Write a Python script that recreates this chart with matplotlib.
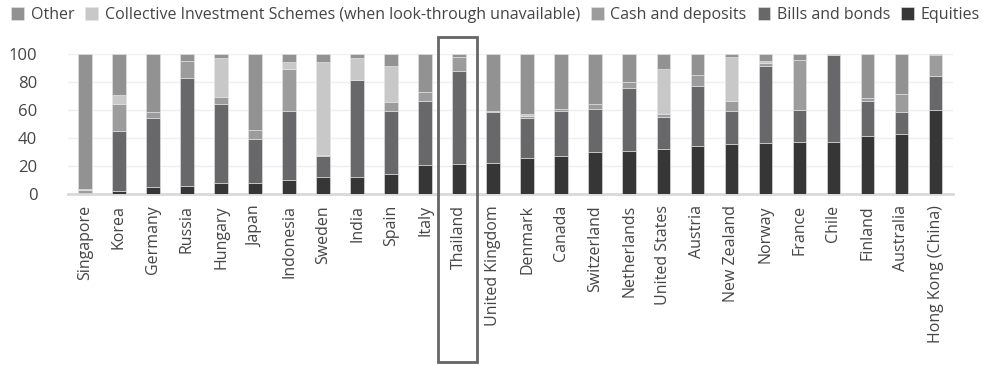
import numpy as np
import matplotlib.pyplot as plt
from matplotlib.patches import Rectangle

plt.rcParams['font.family'] = ['Open Sans', 'DejaVu Sans']

countries = ['Singapore', 'Korea', 'Germany', 'Russia', 'Hungary', 'Japan', 'Indonesia',
             'Sweden', 'India', 'Spain', 'Italy', 'Thailand', 'United Kingdom', 'Denmark',
             'Canada', 'Switzerland', 'Netherlands', 'United States', 'Austria',
             'New Zealand', 'Norway', 'France', 'Chile', 'Finland', 'Australia',
             'Hong Kong (China)']

equities = [0, 2, 5, 6, 7.5, 8, 10, 12, 12.5, 14, 21, 21.5, 22.5, 25.5, 27, 30, 30.5,
            32.5, 34, 35.5, 36.5, 37.5, 37.5, 41.5, 43, 60]
bills = [0.5, 43, 49.5, 77, 56.5, 31, 49, 15, 69, 45.5, 45.5, 66.5, 36, 29, 32, 30.5,
         45.5, 22.5, 43.5, 24, 55, 22.5, 61.5, 25, 15.5, 24]
cash = [2, 19, 4, 12, 5.5, 7, 30, 1, 0, 6.5, 6.5, 10, 0.5, 1, 2, 4, 4, 2, 7.5, 7, 2,
        35.5, 0, 2, 13, 15]
cis = [1, 7, 0, 0, 28, 0, 5, 66, 15.5, 25.5, 0, 0, 0, 2, 0, 0, 0, 32, 0, 31.5, 1.5,
       0, 0, 0, 0, 0]
other = [96.5, 29, 41.5, 5, 2.5, 54, 6, 6, 3, 8.5, 27, 2, 41, 42.5, 39, 35.5, 20, 11,
         15, 2, 5, 4.5, 1, 31.5, 28.5, 1]

series = [
    ('Equities', equities, '#363636'),
    ('Bills and bonds', bills, '#68686a'),
    ('Cash and deposits', cash, '#9c9c9c'),
    ('Collective Investment Schemes (when look-through unavailable)', cis, '#c8c8c8'),
    ('Other', other, '#929292'),
]

fig = plt.figure(figsize=(9.84, 3.65), dpi=100)
ax = fig.add_axes([0.069, 0.4685, 0.899, 0.3835])

x = np.arange(len(countries))
bottom = np.zeros(len(countries))
handles = {}
for name, vals, col in series:
    vals = np.array(vals, dtype=float)
    b = ax.bar(x, vals, width=0.4, bottom=bottom, color=col,
               edgecolor='#e6e6e6', linewidth=0.4, label=name, zorder=3)
    handles[name] = b
    bottom += vals

ax.set_xlim(-0.5, len(countries) - 0.5)
ax.set_ylim(0, 100)
ax.set_yticks(np.arange(0, 101, 20))
ax.yaxis.grid(True, color='#efefef', linewidth=1, zorder=0)
ax.set_axisbelow(True)
for s in ['top', 'right', 'left']:
    ax.spines[s].set_visible(False)
ax.spines['bottom'].set_color('#d9d9d9')
ax.spines['bottom'].set_linewidth(2)
ax.tick_params(axis='both', length=0, colors='#454545', labelsize=12)
ax.tick_params(axis='y', pad=22)
ax.set_xticks(x)
ax.set_xticklabels(countries, rotation=90, fontsize=11.5, color='#454545')
ax.tick_params(axis='x', pad=8)

# caixa de destaque em volta da Tailândia
ti = countries.index('Thailand')
box = Rectangle((ti - 0.63, -120), 1.16, 232, fill=False, edgecolor='#666666',
                linewidth=2, clip_on=False, zorder=5)
ax.add_patch(box)

order = ['Other', 'Collective Investment Schemes (when look-through unavailable)',
         'Cash and deposits', 'Bills and bonds', 'Equities']
fig.legend([handles[n] for n in order], order, loc='upper left',
           bbox_to_anchor=(-0.003, 1.02), ncol=5, frameon=False, fontsize=11.5,
           handlelength=0.8, handleheight=0.8, handletextpad=0.4, columnspacing=0.7,
           labelcolor='#454545')

fig.savefig('out.png', dpi=100)
